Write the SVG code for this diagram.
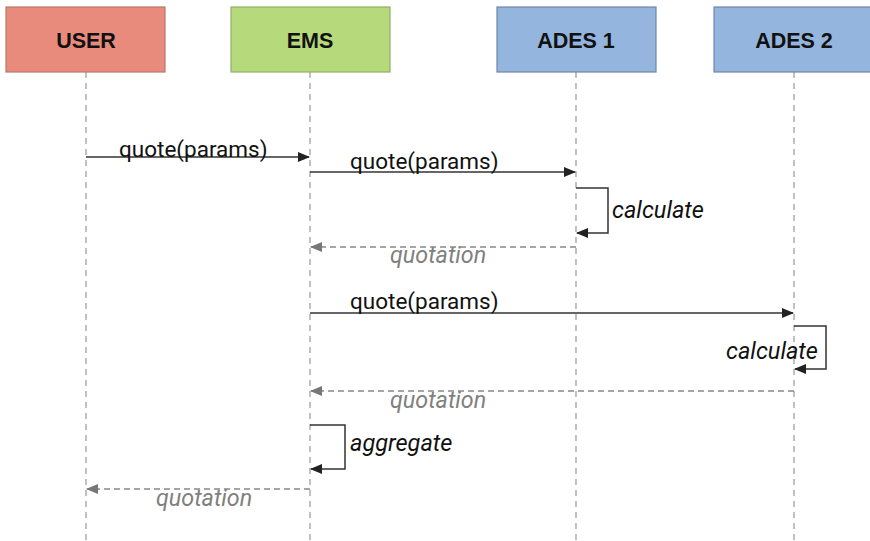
<svg xmlns="http://www.w3.org/2000/svg" width="870" height="541" viewBox="0 0 870 541">
<defs>
<marker id="ah" markerWidth="12" markerHeight="10" refX="11" refY="5" orient="auto" markerUnits="userSpaceOnUse"><path d="M0,0 L12,5 L0,10 z" fill="#222"/></marker>
<marker id="ahg" markerWidth="12" markerHeight="10" refX="11" refY="5" orient="auto" markerUnits="userSpaceOnUse"><path d="M0,0 L12,5 L0,10 z" fill="#777"/></marker>
</defs>
<style>
.box{stroke-width:1.2}
.title{font-family:"Liberation Sans",Arial,sans-serif;font-weight:bold;font-size:21.5px;fill:#111;text-anchor:middle}
.life{stroke:#999;stroke-width:1.2;stroke-dasharray:6,5;fill:none}
.msg{stroke:#333;stroke-width:1.5;fill:none;marker-end:url(#ah)}
.ret{stroke:#888;stroke-width:1.3;stroke-dasharray:6,4;fill:none;marker-end:url(#ahg)}
.lbl{font-family:Roboto,"Liberation Sans",sans-serif;font-size:22.5px;fill:#111}
.it{font-family:Roboto,"Liberation Sans",sans-serif;font-size:23.5px;font-style:italic;fill:#111}
.itg{font-family:Roboto,"Liberation Sans",sans-serif;font-size:23.3px;font-style:italic;fill:#808080}
</style>
<rect width="870" height="541" fill="#fff"/>
<g id="user">
<line class="life" x1="86" y1="72" x2="86" y2="541"/>
<rect class="box" x="6" y="7" width="159" height="65" fill="#e88a7c" stroke="#b8786e"/>
<text class="title" x="86" y="48">USER</text>
</g>
<g id="ems">
<line class="life" x1="310" y1="72" x2="310" y2="541"/>
<rect class="box" x="231" y="7" width="159" height="65" fill="#b6d97b" stroke="#8fae66"/>
<text class="title" x="310" y="48">EMS</text>
</g>
<g id="ades1">
<line class="life" x1="576" y1="72" x2="576" y2="541"/>
<rect class="box" x="497" y="7" width="159" height="65" fill="#93b5de" stroke="#6f86a6"/>
<text class="title" x="576" y="48">ADES 1</text>
</g>
<g id="ades2">
<line class="life" x1="794" y1="72" x2="794" y2="541"/>
<rect class="box" x="714" y="7" width="160" height="65" fill="#93b5de" stroke="#6f86a6"/>
<text class="title" x="794" y="48">ADES 2</text>
</g>
<g id="connectors">
<line class="msg" x1="86" y1="157" x2="309" y2="157"/>
<text class="lbl" x="119" y="157">quote(params)</text>
<line class="msg" x1="310" y1="172" x2="575" y2="172"/>
<text class="lbl" x="350" y="169">quote(params)</text>
<path class="msg" d="M576,188 H608 V233 H577"/>
<text class="it" x="612" y="218">calculate</text>
<line class="ret" x1="576" y1="247" x2="311" y2="247"/>
<text class="itg" x="390" y="263">quotation</text>
<line class="msg" x1="310" y1="313" x2="793" y2="313"/>
<text class="lbl" x="350" y="309">quote(params)</text>
<path class="msg" d="M794,326 H826 V369 H795"/>
<text class="it" x="726" y="359">calculate</text>
<line class="ret" x1="794" y1="391" x2="311" y2="391"/>
<text class="itg" x="390" y="408">quotation</text>
<path class="msg" d="M310,425 H345 V469 H311"/>
<text class="it" x="350" y="451">aggregate</text>
<line class="ret" x1="310" y1="489" x2="87" y2="489"/>
<text class="itg" x="156" y="506">quotation</text>
</g>
</svg>
